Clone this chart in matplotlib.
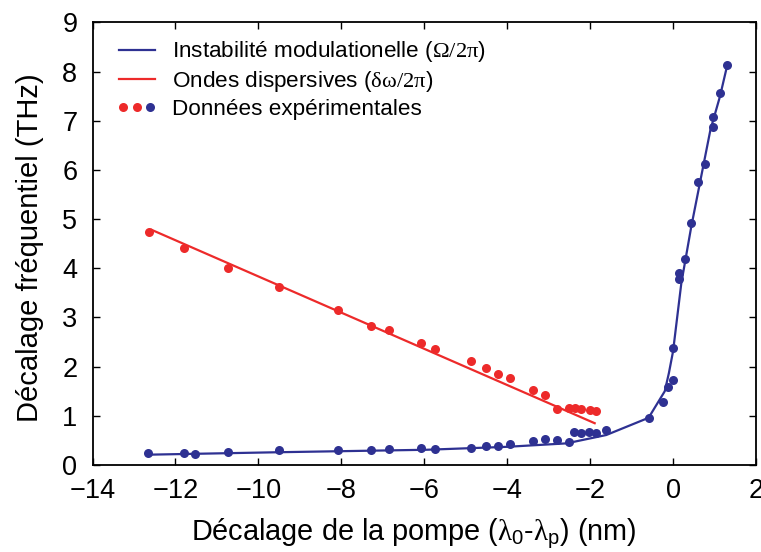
import matplotlib
matplotlib.use("Agg")
import matplotlib.pyplot as plt
from matplotlib.lines import Line2D
from matplotlib.legend_handler import HandlerTuple

plt.rcParams['font.family'] = ['Liberation Sans', 'DejaVu Sans']
plt.rcParams['mathtext.fontset'] = 'custom'
plt.rcParams['mathtext.rm'] = 'Liberation Serif'
plt.rcParams['mathtext.it'] = 'Liberation Serif:italic'
plt.rcParams['mathtext.sf'] = 'Liberation Sans'

BLUE = '#2e3192'
RED = '#ed2a2a'

# measured points (red = dispersive waves, blue = modulation instability)
red_x = [-12.65, -11.80, -10.74, -9.50, -8.07, -7.29, -6.84, -6.09, -5.73, -4.88,
         -4.51, -4.23, -3.94, -3.37, -3.09, -2.80, -2.51, -2.36, -2.22, -2.01, -1.86]
red_y = [4.73, 4.41, 4.01, 3.62, 3.15, 2.82, 2.75, 2.48, 2.36, 2.12,
         1.97, 1.85, 1.76, 1.52, 1.42, 1.14, 1.15, 1.16, 1.14, 1.12, 1.10]

blue_x = [-12.66, -11.80, -11.53, -10.74, -9.50, -8.07, -7.29, -6.84, -6.09, -5.73,
          -4.88, -4.51, -4.23, -3.94, -3.37, -3.09, -2.80, -2.51, -2.38, -2.22,
          -2.02, -1.86, -1.61, -0.59, -0.24, -0.11, 0.00, 0.00, 0.15, 0.15,
          0.30, 0.44, 0.60, 0.78, 0.96, 0.96, 1.13, 1.31]
blue_y = [0.25, 0.25, 0.23, 0.27, 0.30, 0.31, 0.31, 0.32, 0.34, 0.32,
          0.34, 0.38, 0.39, 0.42, 0.48, 0.53, 0.50, 0.47, 0.67, 0.66,
          0.67, 0.66, 0.71, 0.95, 1.28, 1.58, 1.72, 2.37, 3.90, 3.78,
          4.19, 4.92, 5.76, 6.12, 6.87, 7.08, 7.56, 8.14]

# theory curves
mi_x = [-12.65, -9.5, -5.94, -4.0, -2.57, -1.61, -0.59, -0.20, -0.10, 0.0, 0.20, 0.44, 0.90, 1.13, 1.31]
mi_y = [0.21, 0.26, 0.31, 0.37, 0.44, 0.61, 0.96, 1.50, 1.87, 2.31, 3.70, 4.85, 6.81, 7.49, 8.14]
dw_x = [-12.57, -1.89]
dw_y = [4.78, 0.85]

xticks = [-14, -12, -10, -8, -6, -4, -2, 0, 2]
yticks = [0, 1, 2, 3, 4, 5, 6, 7, 8, 9]

fig = plt.figure(figsize=(7.61, 5.52), dpi=100)
ax = fig.add_axes([0.1216, 0.1576, 0.8718, 0.8018])

l_mi, = ax.plot(mi_x, mi_y, color=BLUE, lw=1.6)
l_dw, = ax.plot(dw_x, dw_y, color=RED, lw=1.6)
ax.plot(blue_x, blue_y, 'o', color=BLUE, ms=6.5, mec='none')
ax.plot(red_x, red_y, 'o', color=RED, ms=6.5, mec='none')

ax.set_xlim(-14, 2)
ax.set_ylim(0, 9)
ax.set_xticks(xticks)
ax.set_yticks(yticks)
ax.tick_params(direction='in', length=5, width=1, labelsize=19.5, top=True, right=True)
ax.tick_params(axis='y', pad=11)
ax.tick_params(axis='x', pad=9)
for s in ax.spines.values():
    s.set_linewidth(1.3)

ax.set_xlabel(r'Décalage de la pompe ($\mathrm{\lambda}_{\mathsf{0}}$-$\mathrm{\lambda}_{\mathsf{p}}$) (nm)',
              fontsize=20.8, labelpad=10)
ax.set_ylabel('Décalage fréquentiel (THz)', fontsize=21, labelpad=13)
ax.xaxis.label.set_x(0.485)
ax.yaxis.label.set_y(0.49)

d1 = Line2D([], [], ls='none', marker='o', color=RED, ms=6.5, mec='none')
d2 = Line2D([], [], ls='none', marker='o', color=BLUE, ms=6.5, mec='none')
ax.legend([l_mi, l_dw, (d1, d1, d2)],
          [r'Instabilité modulationelle ($\mathrm{\Omega/2\pi}$)',
           r'Ondes dispersives ($\mathrm{\delta\omega/2\pi}$)',
           'Données expérimentales'],
          handler_map={tuple: HandlerTuple(ndivide=None, pad=0.2)},
          numpoints=1, loc='upper left', frameon=False, fontsize=16.2,
          handlelength=1.6, handletextpad=0.75, labelspacing=0.22,
          borderaxespad=0.0, bbox_to_anchor=(0.026, 0.982))

fig.savefig('out.png', dpi=100)
